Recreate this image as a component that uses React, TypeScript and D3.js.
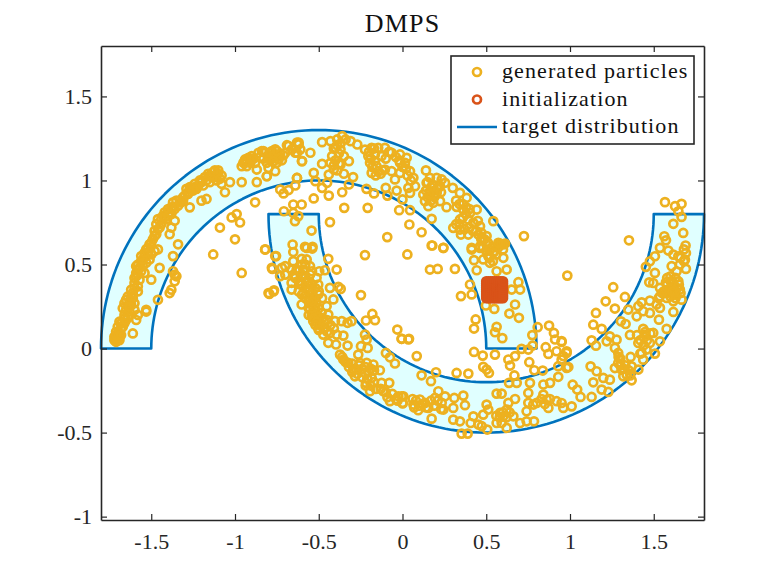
import * as d3 from "d3";
import { useEffect, useRef } from "react";

type Pt = [number, number];

const xTicks = [-1.5, -1, -0.5, 0, 0.5, 1, 1.5];
const yTicks = [-1, -0.5, 0, 0.5, 1, 1.5];
const legendLabels = ["generated particles", "initialization", "target distribution"];

// target: two half rings, [cx, cy, start angle, end angle] in units of pi
const rings = [
  [-0.5, 0, 0, 1],
  [0.5, 0.8, 1, 2],
];
const radii = [1, 1.3];

const initX = [0.5, 0.5125, 0.525, 0.5375, 0.55, 0.5625, 0.575, 0.5875, 0.6];
const initY = [0.3, 0.3125, 0.325, 0.3375, 0.35, 0.3625, 0.375, 0.3875, 0.4];

// particles, roughly by region
const upperLeft: Pt[] = [
  [-1.71,.04],[-1.70,.05],[-1.72,.05],[-1.69,.05],[-1.70,.07],[-1.69,.09],[-1.71,.10],[-1.68,.12],[-1.70,.13],[-1.66,.15],[-1.69,.16],
  [-1.61,.09],[-1.59,.17],[-1.64,.19],[-1.65,.23],[-1.62,.26],[-1.66,.27],[-1.60,.27],[-1.64,.31],[-1.53,.22],[-1.53,.23],[-1.46,.29],
  [-1.62,.35],[-1.58,.34],[-1.60,.39],[-1.59,.43],[-1.58,.47],[-1.54,.45],[-1.50,.41],[-1.59,.49],[-1.56,.52],[-1.54,.55],[-1.53,.59],
  [-1.51,.62],[-1.46,.59],[-1.45,.48],[-1.48,.67],[-1.46,.71],[-1.47,.74],[-1.39,.68],[-1.38,.72],[-1.36,.76],[-1.41,.77],[-1.39,.81],
  [-1.37,.84],[-1.34,.85],[-1.27,.84],[-1.31,.90],[-1.28,.93],[-1.24,.96],[-1.20,.88],[-1.17,.89],[-1.20,.99],[-1.15,1.03],[-1.10,1.06],
  [-1.12,1.02],[-1.06,.93],[-1.08,.98],[-1.03,.99],[-.96,.99],[-.87,.99],[-1.34,.62],[-1.37,.55],[-1.36,.44],[-1.35,.43],[-1.37,.46],
  [-1.36,.40],[-1.38,.35],[-1.39,.33],[-1.65,.29],[-1.63,.28],[-1.61,.30],[-1.67,.24],[-1.63,.22],[-1.60,.23],[-1.66,.18],[-1.58,.20],
  [-1.60,.42],[-1.58,.44],[-1.56,.46],[-1.57,.41],[-1.55,.49],[-1.53,.51],[-1.56,.55],[-1.52,.57],[-1.50,.56],[-1.48,.58],[-1.51,.53],
  [-1.48,.70],[-1.46,.77],[-1.44,.74],[-1.43,.79],[-1.42,.81],[-1.40,.83],[-1.38,.80],[-1.37,.87],[-1.32,.87],[-1.30,.91],[-1.28,.92],
  [-1.26,.95],[-1.24,.98],[-1.22,.97],[-1.20,1.0],[-1.18,1.02],[-1.16,1.04],[-1.14,1.02],[-1.12,1.06],[-1.10,1.04],[-1.08,1.03],
  [-.95,1.105],[-.92,1.135],[-.90,1.145],[-.88,1.105],[-.93,1.085],[-.96,1.085],[-.94,1.125],[-.91,1.105],[-.86,1.165],[-.82,1.165],
  [-.78,1.175],[-.76,1.185],[-.74,1.145],[-.69,1.21],[-.62,1.215],[-.60,1.115],[-.63,1.015],[-.87,1.065],[-.81,1.025],[-.80,1.075],
  [-.76,1.055],[-.74,1.125],[-.84,1.175],[-.80,1.135],[-.75,1.105],[-.64,1.165],[-.66,1.185],[-.63,1.225],[-.61,1.185],
  [-1.71,.06],[-1.69,.07],[-1.72,.07],[-1.70,.09],[-1.71,.08],[-1.68,.08],[-1.67,.13],[-1.68,.15],[-1.66,.20],[-1.65,.17],[-1.64,.25],
  [-1.63,.25],[-1.62,.31],[-1.61,.33],[-1.60,.36],[-1.58,.37],[-1.59,.45],[-1.57,.48],[-1.58,.50],[-1.55,.53],[-1.54,.57],[-1.52,.60],
  [-1.50,.63],[-1.49,.65],[-1.47,.68],[-1.45,.72],[-1.44,.77],[-1.42,.78],[-1.40,.79],[-1.38,.84],[-1.36,.83],[-1.35,.88],[-1.33,.88],
  [-1.31,.88],[-1.29,.95],[-1.27,.96],[-1.25,.94],[-1.23,.95],[-1.21,1.0],[-1.19,.97],[-1.17,1.0],[-1.15,.99],[-1.13,1.05],[-1.11,1.00],
  [-1.09,1.01],[-.93,1.115],[-.91,1.125],[-.94,1.105],[-.90,1.125],[-.89,1.13],[-.85,1.14],[-.83,1.13],[-.80,1.15],[-.78,1.13],[-.77,1.15],
  [-.73,1.16],[-.71,1.15],[-.72,1.12],
];

const innerLeft: Pt[] = [
  [-1.09,.72],[-1.02,.78],[-.99,.80],[-.97,.75],[-1.0,.65],[-1.13,.56],[-.96,.45],[-.88,.87],[-.82,.59],[-.76,.55],[-.78,.48],
  [-.72,.48],[-.70,.44],[-.80,.33],[-.77,.34],
];

const upperMid: Pt[] = [
  [-.83,1.175],[-.79,1.165],[-.75,1.175],[-.81,1.105],[-.77,1.115],[-.70,1.165],[-.68,1.205],[-.62,1.225],[-.63,1.165],[-.60,1.115],
  [-.55,1.165],[-.48,1.228],[-.43,1.234],[-.39,1.244],[-.36,1.264],[-.34,1.244],[-.31,1.234],[-.27,1.214],[-.40,1.194],[-.37,1.184],
  [-.42,1.145],[-.35,1.145],[-.48,1.099],[-.43,1.105],[-.41,1.065],[-.32,1.115],[-.37,1.095],[-.35,1.04],[-.44,1.035],[-.53,1.045],
  [-.63,1.015],[-.81,1.025],[-.52,.996],[-.45,.986],[-.48,.956],[-.295,1.02],[-.32,.976],[-.36,.93],[-.44,.91],[-.53,.893],[-.73,.946],
  [-.71,.923],[-.68,.943],[-.64,.97],[-.215,.95],[-.17,.923],[-.10,.956],[-.09,.91],[-.035,.94],[0,.887],[-.02,.823],[.045,.823],
  [-.224,1.184],[-.184,1.194],[-.145,1.194],[-.105,1.194],[-.065,1.165],[-.015,1.155],[.025,1.135],[-.204,1.145],[-.165,1.155],
  [-.194,1.105],[-.165,1.115],[-.125,1.145],[-.184,1.045],[-.145,1.055],[-.105,1.065],[-.065,1.055],[-.155,1.085],[-.015,1.105],
  [.015,1.105],[.045,1.055],[-.045,1.006],[-.015,1.045],[.065,1.016],[.035,.956],[.075,.966],[.045,.926],[.14,1.06],[.124,.917],
  [.164,1.016],[.204,1.016],[.234,1.006],[.144,.986],[.184,.966],[.224,.966],[.254,.986],[.164,.936],[.204,.926],[.134,.877],[.154,.847],
  [.184,.867],[.224,.877],[.174,.772],[.263,.841],[.30,.956],[.343,.926],[.383,.897],[.323,.843],[.363,.827],[.403,.807],[.443,.827],
  [.343,.768],[.303,.718],[.393,.768],[.423,.748],[.463,.728],[.343,.708],[.393,.678],[.349,.678],[.453,.678],[.473,.659],[.502,.669],
  [.542,.758],[.725,.669],[.582,.625],[.612,.625],[.413,.599],[.463,.609],[.502,.619],[.244,.599],[.178,.613],[.114,.692],[.041,.738],
  [-.091,.663],[-.208,.837],[-.348,.837],[-.433,.752],[-.543,.702],[-.708,.817],[-.652,.857],[-.602,.857],[-.642,.758],[-.652,.807],
  [-.622,.788],[-.656,.619],[-.582,.605],[-.537,.605],
  [-.41,1.19],[-.39,1.21],[-.37,1.22],[-.38,1.16],[-.40,1.12],[-.38,1.10],[-.41,1.09],[-.39,1.06],[-.17,1.19],[-.20,1.17],[-.19,1.13],
  [-.18,1.08],[-.16,1.03],[-.13,1.04],[-.12,1.06],[-.10,1.13],[-.08,1.17],[-.04,1.14],[-.02,1.12],[0,1.08],[.02,1.07],[.03,1.03],[.05,1.00],
  [.15,.99],[.17,.96],[.19,.94],[.19,.90],[.17,.88],[.15,.90],[.21,.95],[.23,.93],[.14,.94],[.16,.92],[.32,.88],[.34,.86],[.36,.86],
  [.38,.84],[.40,.83],[.38,.80],[.36,.78],[.34,.74],[.32,.74],[.37,.71],[.40,.72],[.42,.70],[.44,.70],[.45,.76],[.47,.69],[.49,.65],
  [.47,.65],[.51,.63],[.48,.60],[.50,.58],[.53,.60],[.55,.58],[.52,.54],[.54,.52],[.56,.56],[.57,.60],[.60,.59],[.59,.62],
];

const lowerLeft: Pt[] = [
  [-.82,.589],[-.755,.55],[-.777,.474],[-.731,.431],[-.70,.49],[-.795,.325],[-.767,.347],[-.652,.574],[-.572,.599],[-.539,.595],[-.652,.52],
  [-.602,.534],[-.572,.53],[-.443,.534],[-.393,.47],[-.463,.466],[-.497,.46],[-.552,.49],[-.632,.47],[-.592,.47],[-.662,.47],[-.642,.431],
  [-.602,.431],[-.552,.441],[-.513,.421],[-.662,.391],[-.662,.351],[-.612,.381],[-.572,.391],[-.503,.381],[-.552,.351],[-.592,.331],
  [-.503,.322],[-.602,.262],[-.552,.292],[-.433,.361],[-.383,.367],[-.369,.355],[-.413,.292],[-.453,.252],[-.248,.318],[-.513,.272],
  [-.552,.232],[-.523,.222],[-.483,.212],[-.443,.202],[-.542,.193],[-.513,.183],[-.533,.163],[-.493,.153],[-.503,.123],[-.463,.123],
  [-.403,.163],[-.363,.163],[-.328,.153],[-.304,.163],[-.473,.083],[-.433,.093],[-.443,.034],[-.393,.083],[-.353,.077],[-.397,.024],
  [-.328,.018],[-.224,.083],[-.214,.054],[-.248,.014],[-.208,.004],[-.218,.167],[-.18,.206],[-.164,.169],[-.224,.556],[-.031,.113],
  [-.005,.058],[.035,.054],[-.099,-.026],[-.045,-.089],[-.075,-.052],[-.373,-.036],[-.353,-.065],[-.324,-.085],[-.294,-.125],[-.264,-.036],
  [-.254,-.085],[-.284,-.165],[-.214,-.085],[-.174,-.095],[-.135,-.129],[-.224,-.145],[-.184,-.174],[-.218,-.204],[-.194,-.254],[-.125,-.204],
  [-.079,-.204],[-.115,-.254],[-.075,-.313],[-.025,-.284],[.005,-.284],[.001,-.327],
  [-.56,.24],[-.54,.26],[-.52,.25],[-.50,.24],[-.54,.21],[-.52,.20],[-.50,.19],[-.48,.18],[-.56,.20],[-.53,.18],[-.51,.16],[-.49,.14],
  [-.47,.16],[-.45,.17],[-.47,.12],[-.45,.10],[-.43,.14],[-.41,.12],[-.52,.14],[-.50,.11],
  [-.64,.42],[-.62,.40],[-.60,.38],[-.58,.36],[-.56,.34],[-.54,.32],[-.52,.30],[-.62,.34],[-.60,.32],[-.58,.30],[-.56,.28],[-.54,.28],
  [-.58,.42],[-.56,.40],[-.54,.38],[-.52,.36],[-.50,.34],[-.48,.30],[-.60,.44],[-.62,.46],[-.65,.44],[-.58,.50],[-.60,.50],[-.54,.46],
  [-.36,-.05],[-.34,-.08],[-.32,-.11],[-.30,-.09],[-.28,-.12],[-.26,-.10],[-.30,-.14],[-.27,-.15],[-.24,-.12],[-.22,-.11],[-.20,-.14],
  [-.24,-.17],[-.21,-.18],[-.19,-.12],[-.17,-.13],[-.22,-.22],[-.19,-.22],[-.17,-.20],[-.16,-.24],[-.13,-.24],[-.10,-.26],[-.09,-.29],
  [-.06,-.27],[-.04,-.30],[-.03,-.31],
];

const lowerMid: Pt[] = [
  [.029,.56],[.174,.613],[.244,.599],[.164,.47],[.21,.474],[.313,.474],[.413,.589],[.427,.526],[.463,.599],[.522,.589],[.542,.57],[.602,.619],
  [.572,.629],[.512,.55],[.482,.53],[.522,.51],[.602,.54],[.622,.47],[.562,.46],[.443,.466],[.403,.381],[.349,.312],[.413,.322],[.498,.256],
  [.548,.236],[.672,.262],[.638,.208],[.695,.183],[.692,.395],[.652,.351],[.702,.351],[.437,.173],[.427,.119],[.562,.129],[.552,.097],[.596,.062],
  [.807,.127],[.775,.08],[.777,.018],[.711,-.002],[.751,-.006],[.672,-.045],[.632,-.065],[.642,-.101],[.757,-.081],[.427,-.02],[.479,-.042],
  [.552,-.036],[.482,-.109],[.502,-.125],[.516,-.145],[.323,-.145],[.393,-.149],[.2,-.141],[.114,-.159],[.17,-.194],[.085,-.045],[-.005,.058],
  [.039,.058],[.787,-.129],[.837,-.131],[.875,.137],[.904,.093],[.95,.044],[.911,.054],[.855,.008],[.871,-.032],[.92,-.016],[.96,-.045],
  [.98,-.016],[.93,-.105],[.98,-.115],[.668,-.16],[.636,-.204],[.682,-.204],[.761,-.204],[.841,-.214],[.881,-.204],[.93,-.168],[.751,-.264],
  [.751,-.323],[.741,-.373],[.781,-.333],[.841,-.274],[.861,-.303],[.801,-.323],[.92,-.313],[.871,-.353],[.96,-.353],[.672,-.30],[.632,-.323],
  [.562,-.268],[.592,-.268],[.622,-.363],[.582,-.383],[.602,-.403],[.662,-.403],[.592,-.443],[.622,-.472],[.562,-.443],[.502,-.333],[.512,-.363],
  [.482,-.393],[.423,-.403],[.407,-.443],[.453,-.452],[.473,-.462],[.506,-.482],[.702,-.443],[.741,-.433],[.785,-.433],[.353,-.506],[.389,-.506],
  [.343,-.433],[.303,-.423],[.174,-.417],[.363,-.28],[.309,-.294],[.254,-.284],[.214,-.254],[.104,-.303],[.065,-.333],[.094,-.367],[.134,-.323],
  [.154,-.353],[.194,-.294],[.234,-.323],[.244,-.363],[.303,-.353],[.373,-.337],[-.005,-.284],[.001,-.323],
  [.06,-.30],[.08,-.31],[.10,-.34],[.12,-.33],[.07,-.35],[.14,-.35],[.17,-.31],[.19,-.34],[.21,-.31],[.23,-.36],[.56,-.40],[.58,-.41],
  [.60,-.38],[.62,-.41],[.64,-.38],[.83,-.30],[.85,-.33],[.88,-.30],
];

const lowerRight: Pt[] = [
  [1.567,.871],[1.627,.847],[1.666,.861],[1.647,.817],[1.666,.783],[1.617,.742],[1.676,.688],[1.563,.668],[1.573,.644],[1.352,.644],[.984,.434],
  [1.69,.613],[1.692,.569],[1.537,.599],[1.587,.583],[1.507,.549],[1.477,.519],[1.453,.486],[1.507,.45],[1.617,.559],[1.647,.549],[1.686,.529],
  [1.607,.49],[1.656,.5],[1.692,.474],[1.637,.46],[1.473,.394],[1.497,.39],[1.573,.394],[1.647,.40],[1.617,.39],[1.537,.361],[1.617,.351],
  [1.656,.351],[1.587,.341],[1.627,.321],[1.537,.311],[1.577,.301],[1.666,.291],[1.617,.281],[1.258,.365],[1.328,.307],[1.213,.281],[1.268,.238],
  [1.155,.212],[1.139,.142],[1.189,.117],[1.348,.232],[1.408,.252],[1.428,.275],[1.477,.285],[1.398,.192],[1.437,.222],[1.477,.212],[1.517,.262],
  [1.537,.242],[1.531,.172],[1.617,.218],[1.577,.117],[1.304,.162],[1.332,.146],[1.358,.081],[1.129,.049],[1.155,.017],[1.238,.073],[1.219,.043],
  [1.278,.053],[1.268,.004],[1.288,-.026],[1.437,.117],[1.447,.083],[1.497,.093],[1.408,.033],[1.477,.033],[1.537,.043],[1.428,-.026],[1.457,-.006],
  [1.507,-.03],[1.362,-.05],[1.437,-.066],[1.288,-.086],[1.368,-.106],[1.268,-.116],[1.308,-.125],[1.338,-.155],[1.368,-.189],[1.408,-.125],
  [1.318,-.165],[1.123,-.106],[1.159,-.135],[1.139,-.201],[1.199,-.175],[1.238,-.185],[1.189,-.244],[1.229,-.258],[1.016,-.215],[1.043,-.244],
  [1.063,-.288],[1.129,-.288],[1.01,-.344],[.95,-.324],[.99,-.11],[.95,.039],[.98,-.026],[.95,-.066],
  [1.58,.38],[1.60,.36],[1.62,.37],[1.60,.40],[1.63,.42],[1.64,.36],[1.62,.33],[1.60,.31],[1.58,.33],[1.56,.34],[1.55,.33],[1.53,.30],
  [1.65,.38],[1.60,.43],[1.58,.42],[1.61,.34],[1.63,.30],[1.66,.33],[1.68,.52],[1.66,.54],[1.68,.59],
  [1.30,-.06],[1.29,-.05],[1.30,-.10],[1.32,-.12],[1.33,-.10],[1.35,-.13],[1.36,-.16],[1.42,-.03],[1.44,.02],[1.46,.05],[1.45,.10],[1.48,.09],
  [1.42,.05],[1.40,.08],
];

const particles = [...upperLeft, ...innerLeft, ...upperMid, ...lowerLeft, ...lowerMid, ...lowerRight];

const width = 779;
const height = 585;
const serif = "'Liberation Serif', 'DejaVu Serif', serif";
const blue = "#0072BD";
const yellow = "#EDB120";
const orange = "#D95319";
const dark = "#262626";

export default function App() {
  const svgRef = useRef<SVGSVGElement | null>(null);

  useEffect(() => {
    if (!svgRef.current) return;
    const svg = d3.select(svgRef.current);
    svg.selectAll("*").remove();

    const x = d3.scaleLinear().domain([-1.8, 1.8]).range([101, 704]);
    const y = d3.scaleLinear().domain([-1.02, 1.8]).range([520, 46]);

    // === target ===
    const line = d3.line<Pt>().x((d) => x(d[0])).y((d) => y(d[1]));
    rings.forEach(([cx, cy, a0, a1]) => {
      const angles = d3.range(a0, a1 + 0.001, 0.01);
      const at = (r: number) => (t: number): Pt => [
        cx + r * Math.cos(t * Math.PI),
        cy + r * Math.sin(t * Math.PI),
      ];
      const outer = angles.map(at(radii[1]));
      const inner = angles.slice().reverse().map(at(radii[0]));
      svg
        .append("path")
        .attr("d", line([...outer, ...inner]) + "Z")
        .attr("fill", "#E0FFFF")
        .attr("stroke", blue)
        .attr("stroke-width", 2.6)
        .attr("stroke-linejoin", "round");
    });

    // === particles ===
    svg
      .append("g")
      .selectAll("circle")
      .data(particles)
      .enter()
      .append("circle")
      .attr("cx", (d) => x(d[0]))
      .attr("cy", (d) => y(d[1]))
      .attr("r", 4)
      .attr("fill", "none")
      .attr("stroke", yellow)
      .attr("stroke-width", 2.7);

    const initial = d3.cross(initX, initY) as Pt[];
    svg
      .append("g")
      .selectAll("circle")
      .data(initial)
      .enter()
      .append("circle")
      .attr("cx", (d) => x(d[0]))
      .attr("cy", (d) => y(d[1]))
      .attr("r", 4)
      .attr("fill", "none")
      .attr("stroke", orange)
      .attr("stroke-width", 2.7);

    // === axes ===
    const style = (g: d3.Selection<SVGGElement, unknown, null, undefined>) => {
      g.selectAll("path").attr("stroke", dark).attr("stroke-width", 1.6);
      g.selectAll("line").attr("stroke", dark).attr("stroke-width", 1.2);
      g.selectAll("text")
        .attr("fill", "#262626")
        .style("font-family", serif)
        .style("font-size", "22px");
    };
    const fmt = (d: d3.NumberValue) => String(+d);

    svg
      .append<SVGGElement>("g")
      .attr("transform", `translate(0,${y(-1.02)})`)
      .call(d3.axisBottom(x).tickValues(xTicks).tickFormat(fmt).tickSizeInner(-6).tickSizeOuter(0).tickPadding(13))
      .call(style);
    svg
      .append<SVGGElement>("g")
      .attr("transform", `translate(0,${y(1.8)})`)
      .call(d3.axisTop(x).tickValues(xTicks).tickFormat(() => "").tickSizeInner(-6).tickSizeOuter(0))
      .call(style);
    svg
      .append<SVGGElement>("g")
      .attr("transform", `translate(${x(-1.8)},0)`)
      .call(d3.axisLeft(y).tickValues(yTicks).tickFormat(fmt).tickSizeInner(-6).tickSizeOuter(0).tickPadding(9))
      .call(style);
    svg
      .append<SVGGElement>("g")
      .attr("transform", `translate(${x(1.8)},0)`)
      .call(d3.axisRight(y).tickValues(yTicks).tickFormat(() => "").tickSizeInner(-6).tickSizeOuter(0))
      .call(style);

    // === title ===
    svg
      .append("text")
      .attr("x", x(0))
      .attr("y", 32)
      .attr("text-anchor", "middle")
      .attr("fill", "#111")
      .style("font-family", serif)
      .style("font-size", "26px")
      .style("letter-spacing", "1.2px")
      .text("DMPS");

    // === legend ===
    const legend = svg.append("g").attr("transform", "translate(451,56)");
    legend
      .append("rect")
      .attr("width", 243)
      .attr("height", 88)
      .attr("fill", "#fff")
      .attr("stroke", dark)
      .attr("stroke-width", 1.6);
    legendLabels.forEach((label, i) => {
      const rowY = 16 + i * 27.5;
      if (i < 2) {
        legend
          .append("circle")
          .attr("cx", 26)
          .attr("cy", rowY)
          .attr("r", 4)
          .attr("fill", "none")
          .attr("stroke", i === 0 ? yellow : orange)
          .attr("stroke-width", 2.7);
      } else {
        legend
          .append("line")
          .attr("x1", 6)
          .attr("x2", 46)
          .attr("y1", rowY)
          .attr("y2", rowY)
          .attr("stroke", blue)
          .attr("stroke-width", 2.6);
      }
      legend
        .append("text")
        .attr("x", 51)
        .attr("y", rowY + 6)
        .attr("fill", "#111")
        .style("font-family", serif)
        .style("font-size", "22px")
        .style("letter-spacing", "1.1px")
        .text(label);
    });
  }, []);

  return (
    <svg
      ref={svgRef}
      width={width}
      height={height}
      viewBox={`0 0 ${width} ${height}`}
      style={{ position: "absolute", left: 0, top: 0, background: "#fff" }}
    />
  );
}
